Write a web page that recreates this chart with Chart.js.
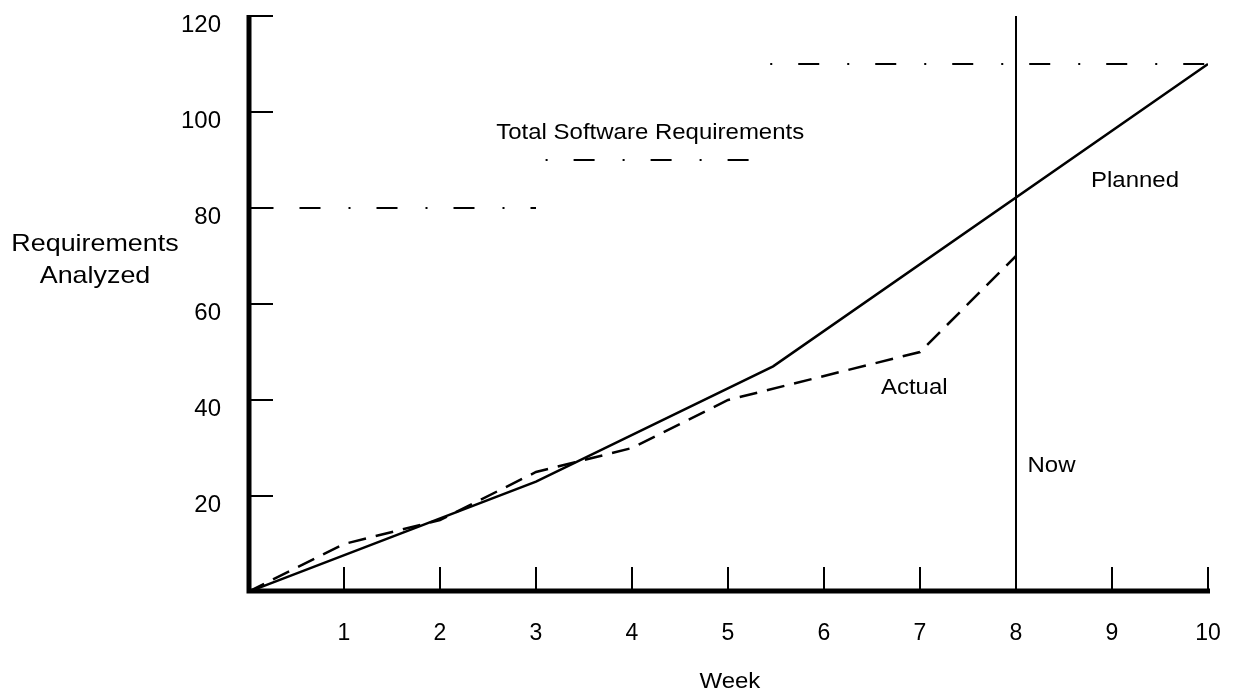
<!DOCTYPE html>
<html>
<head>
<meta charset="utf-8">
<script src="https://cdn.jsdelivr.net/npm/chart.js@4"></script>
<style>
  html, body { margin: 0; padding: 0; background: #fff; }
</style>
</head>
<body>
<canvas id="chart1" width="1237" height="694"></canvas>
<script>
// Requirements analysed per week
const weekTicks = [1, 2, 3, 4, 5, 6, 7, 8, 9, 10]
const reqTicks = [20, 40, 60, 80, 100, 120]
const plannedWeeks = [0, 3, 5.47, 10]
const plannedReqs = [0, 23, 47, 110]
const actualWeeks = [0, 1, 2, 3, 4, 5, 7, 8]
const actualReqs = [0, 10, 15, 25, 30, 40, 50, 70]
const totalFrom = [0, 3.1, 5.44]
const totalTo = [3, 5.23, 10]
const totalReqs = [80, 90, 110]
const nowWeek = 8

const FONT = '"Liberation Sans", Arial, sans-serif'
const pts = (xs, ys) => xs.map((x, i) => ({ x: x, y: ys[i] }))

const base = {
    borderColor: '#000',
    pointRadius: 0,
    tension: 0,
    fill: false,
    borderCapStyle: 'butt',
    borderJoinStyle: 'miter',
}

const datasets = [
    { ...base, label: 'Planned', data: pts(plannedWeeks, plannedReqs), borderWidth: 2.5 },
    { ...base, label: 'Actual', data: pts(actualWeeks, actualReqs), borderWidth: 2.5, borderDash: [18, 10] },
    { ...base, label: 'Now', data: [{ x: nowWeek, y: 0 }, { x: nowWeek, y: 120 }], borderWidth: 2 },
]
// dash-dot offsets so the pattern starts on a dot like in the picture
const dashOffsets = [53.5, 0, 0]
totalReqs.forEach((v, i) => {
    datasets.push({
        ...base,
        label: 'Total ' + v,
        data: [{ x: totalFrom[i], y: v }, { x: totalTo[i], y: v }],
        borderWidth: 2,
        borderDash: [2, 26, 21, 28],
        borderDashOffset: dashOffsets[i],
    })
})

function stretchText(ctx, text, x, y, size, sx) {
    ctx.save()
    ctx.font = size + 'px ' + FONT
    ctx.translate(x, y)
    ctx.scale(sx, 1)
    ctx.fillText(text, 0, 0)
    ctx.restore()
}

const axesPlugin = {
    id: 'axesPlugin',
    afterDatasetsDraw(chart) {
        const ctx = chart.ctx
        const xs = chart.scales.x
        const ys = chart.scales.y
        const x0 = xs.getPixelForValue(0) + 1
        const y0 = ys.getPixelForValue(0) - 1
        ctx.save()
        ctx.strokeStyle = '#000'
        ctx.lineCap = 'butt'
        // thick axes
        ctx.lineWidth = 5
        ctx.beginPath()
        ctx.moveTo(x0, ys.getPixelForValue(120) - 1)
        ctx.lineTo(x0, y0 + 2.5)
        ctx.moveTo(x0 - 2.5, y0)
        ctx.lineTo(xs.getPixelForValue(10) + 2, y0)
        ctx.stroke()
        // inside ticks
        ctx.lineWidth = 2
        ctx.beginPath()
        reqTicks.forEach(v => {
            const y = ys.getPixelForValue(v)
            ctx.moveTo(x0, y)
            ctx.lineTo(x0 + 24, y)
        })
        weekTicks.forEach(v => {
            const x = xs.getPixelForValue(v)
            ctx.moveTo(x, y0)
            ctx.lineTo(x, y0 - 24)
        })
        ctx.stroke()

        // annotations
        ctx.fillStyle = '#000'
        ctx.textAlign = 'center'
        ctx.textBaseline = 'middle'
        stretchText(ctx, 'Total Software Requirements', xs.getPixelForValue(4.19), ys.getPixelForValue(95.6), 22, 1.09)
        stretchText(ctx, 'Planned', xs.getPixelForValue(9.24), ys.getPixelForValue(85.7), 22, 1.09)
        stretchText(ctx, 'Actual', xs.getPixelForValue(6.94), ys.getPixelForValue(42.5), 22, 1.09)
        stretchText(ctx, 'Now', xs.getPixelForValue(8.37), ys.getPixelForValue(26.3), 22, 1.09)
        stretchText(ctx, 'Week', xs.getPixelForValue(5.02), 682, 22, 1.09)
        stretchText(ctx, 'Requirements', 95, 244, 24, 1.12)
        stretchText(ctx, 'Analyzed', 95, 276, 24, 1.12)
        ctx.restore()
    },
}

const chart1 = new Chart(document.getElementById('chart1'), {
    type: 'line',
    data: { datasets: datasets },
    options: {
        responsive: false,
        devicePixelRatio: 1,
        animation: false,
        layout: { padding: { left: 0, right: 29, top: 16, bottom: 0 } },
        plugins: {
            legend: { display: false },
            tooltip: { enabled: false },
        },
        scales: {
            x: {
                type: 'linear',
                min: 0,
                max: 10,
                afterBuildTicks: (s) => { s.ticks = weekTicks.map(v => ({ value: v })) },
                afterFit: (s) => {
                    s.height = 102
                    s.paddingLeft = 0
                    s.paddingRight = 0
                },
                grid: { display: false, drawTicks: false },
                border: { display: false },
                ticks: { color: '#000', font: { family: FONT, size: 23 }, padding: 28, maxRotation: 0, autoSkip: false },
            },
            y: {
                type: 'linear',
                min: 0,
                max: 120,
                afterBuildTicks: (s) => { s.ticks = reqTicks.map(v => ({ value: v })) },
                afterFit: (s) => {
                    s.width = 248
                    s.paddingTop = 0
                    s.paddingBottom = 0
                },
                grid: { display: false, drawTicks: false },
                border: { display: false },
                ticks: { color: '#000', font: { family: FONT, size: 24 }, padding: 27, labelOffset: 9 },
            },
        },
    },
    plugins: [axesPlugin],
})
</script>
</body>
</html>
